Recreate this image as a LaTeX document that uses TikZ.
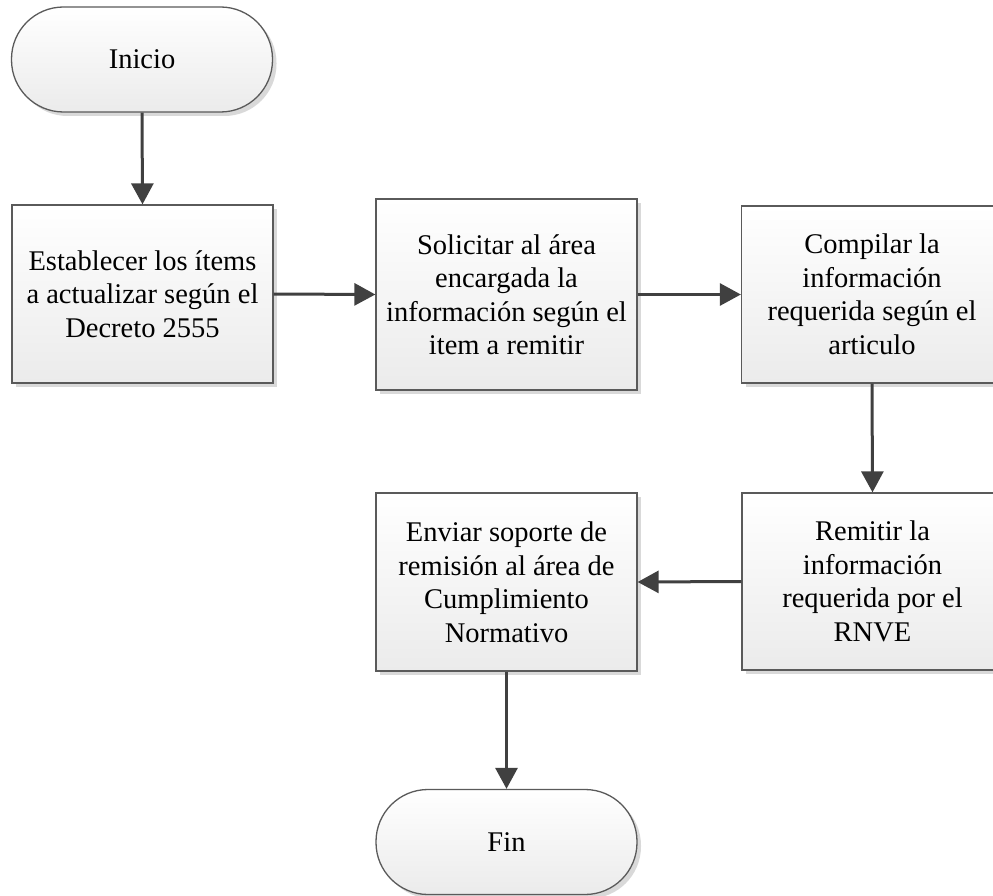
\documentclass[tikz,border=0pt]{standalone}
\usepackage{fontspec}
\setmainfont{Liberation Serif}
\usetikzlibrary{arrows.meta}
\definecolor{edge}{HTML}{5A5A5A}
\definecolor{arr}{HTML}{404040}
\definecolor{shad}{HTML}{D9D9D9}
\definecolor{boxtop}{HTML}{FFFFFF}
\definecolor{boxbot}{HTML}{EBEBEB}
\tikzset{
  base/.style={draw=edge, line width=1.3pt, top color=boxtop, bottom color=boxbot,
    preaction={fill=shad, draw=none, transform canvas={shift={(4pt,-4pt)}}},
    inner sep=0pt, align=center, font=\fontsize{28.5}{33.5}\selectfont},
  procbox/.style={base, rectangle, minimum width=261pt},
  term/.style={base, rectangle, rounded corners=52pt, minimum width=261pt, minimum height=105pt},
  conn/.style={draw=arr, line width=3pt, -{Triangle[length=21pt,width=22pt]}}
}
\begin{document}
\begin{tikzpicture}[x=1pt,y=-1pt]
\useasboundingbox (0,0) rectangle (993,896);
\node[term] (inicio) at (142,59.5) {Inicio};
\node[procbox, minimum height=178pt] (b1) at (142.5,294) {Establecer los ítems\\a actualizar según el\\Decreto 2555};
\node[procbox, minimum height=191pt] (b2) at (506.5,294.5) {Solicitar al área\\encargada la\\información según el\\item a remitir};
\node[procbox, minimum height=177pt] (b3) at (872,294.5) {Compilar la\\información\\requerida según el\\articulo};
\node[procbox, minimum height=177pt] (b4) at (872.5,581.5) {Remitir la\\información\\requerida por el\\RNVE};
\node[procbox, minimum height=178pt] (b5) at (506.5,582) {Enviar soporte de\\remisión al área de\\Cumplimiento\\Normativo};
\node[term] (fin) at (506.5,842) {Fin};
\draw[conn] (inicio.south) -- (b1.north);
\draw[conn] (b1.east) -- (b2.west);
\draw[conn] (b2.east) -- (b3.west);
\draw[conn] (b3.south) -- (b4.north);
\draw[conn] (b4.west) -- (b5.east);
\draw[conn] (b5.south -| fin.north) -- (fin.north);
\end{tikzpicture}
\end{document}
